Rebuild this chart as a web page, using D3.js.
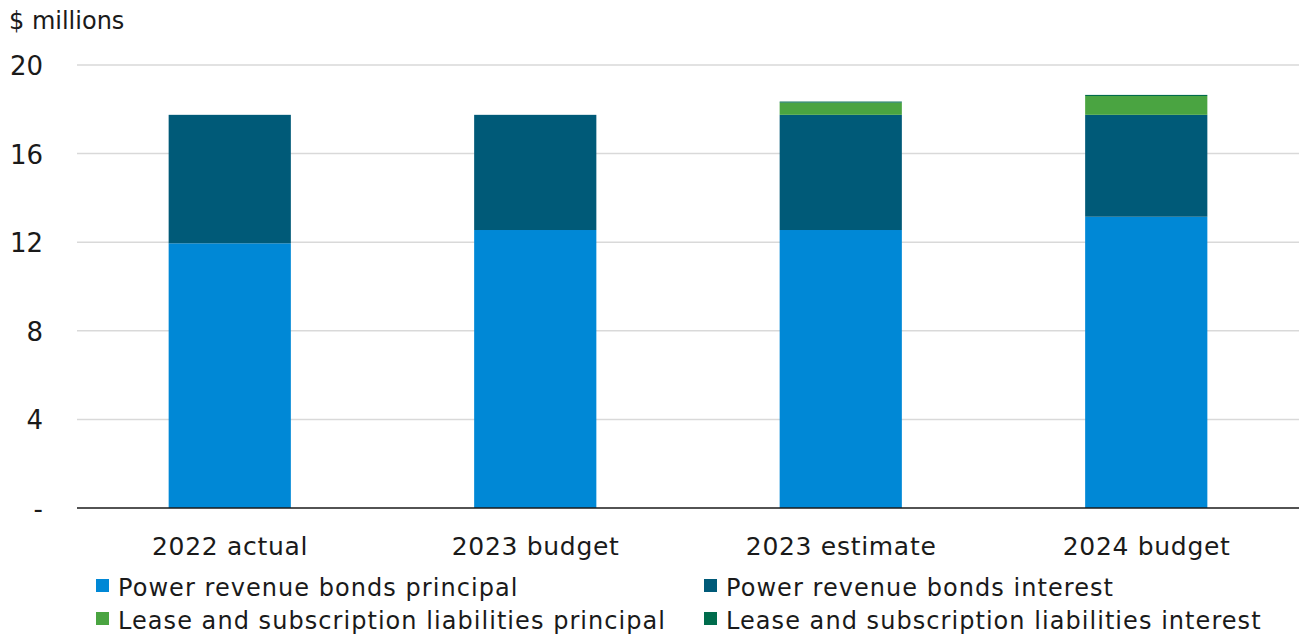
<!DOCTYPE html>
<html><head><meta charset="utf-8">
<script src="https://cdn.jsdelivr.net/npm/d3@7"></script>
<style>
html,body{margin:0;padding:0;background:#fff;}
svg text{font-family:"DejaVu Sans",sans-serif;fill:#1a1a1a;}
</style></head>
<body>
<svg id="chart" width="1300" height="637"></svg>
<script>
const categories = ["2022 actual","2023 budget","2023 estimate","2024 budget"];
const seriesNames = ["Power revenue bonds principal","Power revenue bonds interest","Lease and subscription liabilities principal","Lease and subscription liabilities interest"];
const bondsPrincipal = [11.95, 12.55, 12.55, 13.15];
const bondsInterest = [5.8, 5.2, 5.2, 4.6];
const leasePrincipal = [0, 0, 0.55, 0.85];
const leaseInterest = [0, 0, 0.05, 0.05];
const yTicks = [0,4,8,12,16,20];
const yTickLabels = ["-","4","8","12","16","20"];
const colors = ["#0088d6","#005a78","#4aa441","#006c4c"];

const svg = d3.select("#chart");
const x = d3.scaleBand().domain(categories).range([77,1299]).paddingInner(0.6).paddingOuter(0.3);
const y = d3.scaleLinear().domain([0,20]).range([508,65]);

const rows = categories.map((c,i)=>({cat:c, s0:bondsPrincipal[i], s1:bondsInterest[i], s2:leasePrincipal[i], s3:leaseInterest[i]}));
const stack = d3.stack().keys(["s0","s1","s2","s3"])(rows);

svg.append("g").selectAll("line").data(yTicks.filter(d=>d>0)).join("line")
  .attr("x1",77).attr("x2",1299).attr("y1",d=>y(d)).attr("y2",d=>y(d))
  .attr("stroke","#d9d9d9").attr("stroke-width",1.5);

svg.append("g").selectAll("text").data(yTicks).join("text")
  .attr("x",43).attr("y",d=>y(d)+10).attr("text-anchor","end")
  .attr("font-size",26).text((d,i)=>yTickLabels[i]);

svg.append("text").attr("x",9).attr("y",29).attr("font-size",24).text("$ millions");

svg.append("g").selectAll("g").data(stack).join("g")
  .attr("fill",(d,i)=>colors[i])
  .selectAll("rect").data(d=>d).join("rect")
  .attr("x",d=>x(d.data.cat)).attr("width",x.bandwidth())
  .attr("y",d=>y(d[1])).attr("height",d=>Math.max(0,y(d[0])-y(d[1])));

svg.append("line").attr("x1",77).attr("x2",1299).attr("y1",y(0)).attr("y2",y(0))
  .attr("stroke","#1a1a1a").attr("stroke-width",1.5);

svg.append("g").selectAll("text").data(categories).join("text")
  .attr("x",d=>x(d)+x.bandwidth()/2+0.4).attr("y",555).attr("text-anchor","middle")
  .attr("font-size",25).attr("letter-spacing",0.7).text(d=>d);

const legPos = [[96,596],[704,596],[96,629],[704,629]];
const lg = svg.append("g").selectAll("g").data(seriesNames).join("g")
  .attr("transform",(d,i)=>`translate(${legPos[i][0]},${legPos[i][1]})`);
lg.append("rect").attr("x",0).attr("y",-17).attr("width",13).attr("height",13).attr("fill",(d,i)=>colors[i]);
lg.append("text").attr("x",22).attr("y",0).attr("font-size",24).attr("letter-spacing",1.05).text(d=>d);
</script>
</body></html>
